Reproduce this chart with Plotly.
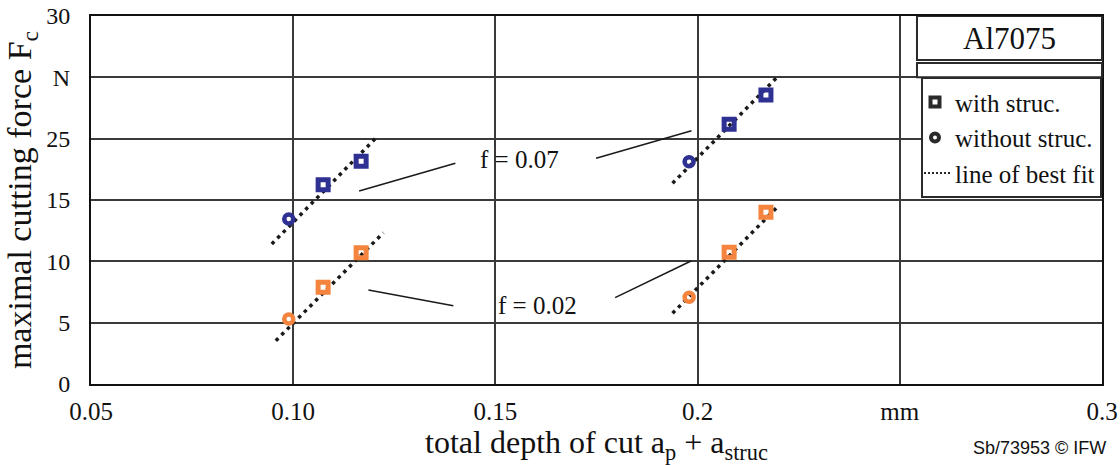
import plotly.graph_objects as go

# ---- data ----
x_ticks = [0.05, 0.10, 0.15, 0.2, 0.25, 0.3]
x_ticktext = ["0.05", "0.10", "0.15", "0.2", "mm", "0.3"]
y_ticks = [0, 5, 10, 15, 20, 25, 30]
y_ticktext = ["0", "5", "10", "15", "25", "N", "30"]

# f = 0.07 (blue)
f07_without_x = [0.0989, 0.1979]
f07_without_y = [13.45, 18.12]
f07_with_x = [0.1074, 0.1168, 0.2078, 0.2169]
f07_with_y = [16.25, 18.15, 21.17, 23.56]
f07_fit_x = [0.0947, 0.1210, None, 0.1938, 0.2202]
f07_fit_y = [11.41, 20.24, None, 16.36, 25.19]

# f = 0.02 (orange)
f02_without_x = [0.0989, 0.1979]
f02_without_y = [5.30, 7.07]
f02_with_x = [0.1074, 0.1168, 0.2078, 0.2169]
f02_with_y = [7.88, 10.70, 10.74, 14.00]
f02_fit_x = [0.0957, 0.1223, None, 0.1938, 0.2202]
f02_fit_y = [3.53, 12.33, None, 5.76, 14.59]

# leader lines for labels: (x0, y0, x1, y1)
f07_leaders = [(0.1163, 15.73, 0.1401, 17.99), (0.1749, 18.40, 0.1985, 20.65)]
f02_leaders = [(0.1186, 7.66, 0.1396, 6.38), (0.1796, 7.04, 0.1985, 10.05)]
label_f07 = (0.156, 18.34, "f = 0.07")
label_f02 = (0.1604, 6.38, "f = 0.02")

BLUE = "#2e3092"
ORANGE = "#f4843e"
SERIF = "Liberation Serif, Times New Roman, serif"
FIT_DASH = "3.5px,4.5px"

fig = go.Figure()

# best fit lines
for fx, fy in [(f07_fit_x, f07_fit_y), (f02_fit_x, f02_fit_y)]:
    fig.add_trace(go.Scatter(x=fx, y=fy, mode="lines", showlegend=False,
                             line=dict(color="#1a1a1a", width=3.5, dash=FIT_DASH),
                             hoverinfo="skip"))

# markers
for xs, ys, col in [(f07_without_x, f07_without_y, BLUE), (f02_without_x, f02_without_y, ORANGE)]:
    fig.add_trace(go.Scatter(x=xs, y=ys, mode="markers", showlegend=False,
                             marker=dict(symbol="circle-open", size=9, color=col,
                                         line=dict(color=col, width=4.5))))
for xs, ys, col in [(f07_with_x, f07_with_y, BLUE), (f02_with_x, f02_with_y, ORANGE)]:
    fig.add_trace(go.Scatter(x=xs, y=ys, mode="markers", showlegend=False,
                             marker=dict(symbol="square-open", size=10, color=col,
                                         line=dict(color=col, width=5))))

# legend entries (black keys)
fig.add_trace(go.Scatter(x=[None], y=[None], mode="markers", name="with struc.",
                         marker=dict(symbol="square-open", size=9, color="#2a2a2a",
                                     line=dict(color="#2a2a2a", width=4))))
fig.add_trace(go.Scatter(x=[None], y=[None], mode="markers", name="without struc.",
                         marker=dict(symbol="circle-open", size=8, color="#2a2a2a",
                                     line=dict(color="#2a2a2a", width=4))))
fig.add_trace(go.Scatter(x=[None], y=[None], mode="lines", name="line of best fit",
                         line=dict(color="#2a2a2a", width=2, dash="2px,2px")))

shapes = []
for (x0, y0, x1, y1) in f07_leaders + f02_leaders:
    shapes.append(dict(type="line", xref="x", yref="y", x0=x0, y0=y0, x1=x1, y1=y1,
                       line=dict(color="#1a1a1a", width=1.5)))
# Al7075 box and the strip under it
shapes.append(dict(type="rect", xref="paper", yref="y", x0=0.817, x1=1.0, y0=26.41, y1=30,
                   line=dict(color="#2a2a2a", width=2), fillcolor="white", layer="above"))
shapes.append(dict(type="rect", xref="paper", yref="y", x0=0.817, x1=1.0, y0=25.0, y1=26.17,
                   line=dict(color="#2a2a2a", width=2), fillcolor="white", layer="above"))

annotations = [
    dict(x=label_f07[0], y=label_f07[1], xref="x", yref="y", text=label_f07[2], showarrow=False,
         font=dict(family=SERIF, size=25, color="#111")),
    dict(x=label_f02[0], y=label_f02[1], xref="x", yref="y", text=label_f02[2], showarrow=False,
         font=dict(family=SERIF, size=25, color="#111")),
    dict(x=0.9085, y=28.2, xref="paper", yref="y", xanchor="center", yanchor="middle",
         text="Al7075", showarrow=False,
         font=dict(family=SERIF, size=31, color="#111")),
    dict(x=1.006, y=0, xref="paper", yref="paper", xanchor="right", yanchor="middle",
         yshift=-64, text="Sb/73953 © IFW", showarrow=False,
         font=dict(family="Liberation Sans, Arial, sans-serif", size=18, color="#111")),
]

fig.update_layout(
    width=1120, height=465,
    margin=dict(l=91, r=18, t=16, b=81, autoexpand=False),
    paper_bgcolor="white", plot_bgcolor="white",
    font=dict(family=SERIF, color="#111"),
    shapes=shapes, annotations=annotations,
    legend=dict(x=1.0, xanchor="right", y=25 / 30, yanchor="top",
                bgcolor="white", bordercolor="#2a2a2a", borderwidth=2,
                font=dict(family=SERIF, size=25, color="#111"),
                itemwidth=30, tracegroupgap=0, indentation=-8),
)
fig.update_xaxes(range=[0.05, 0.3], tickvals=x_ticks, ticktext=x_ticktext, automargin=False,
                 showgrid=True, gridcolor="#3a3a3a", gridwidth=1.5,
                 showline=True, linecolor="#111", linewidth=2, mirror=True,
                 zeroline=False, ticks="", ticklabelstandoff=4,
                 tickfont=dict(family=SERIF, size=25, color="#111"),
                 title=dict(text="total depth of cut a<sub>p</sub> + a<sub>struc</sub>",
                            font=dict(family=SERIF, size=32, color="#111"), standoff=10))
fig.update_yaxes(range=[0, 30], tickvals=y_ticks, ticktext=y_ticktext, automargin=False,
                 showgrid=True, gridcolor="#3a3a3a", gridwidth=1.5,
                 showline=True, linecolor="#111", linewidth=2, mirror=True,
                 zeroline=False, ticks="", ticklabelstandoff=14,
                 tickfont=dict(family=SERIF, size=24, color="#111"),
                 title=dict(text="maximal cutting force F<sub>c</sub>",
                            font=dict(family=SERIF, size=34, color="#111"), standoff=4))

fig.write_html("out.html")
